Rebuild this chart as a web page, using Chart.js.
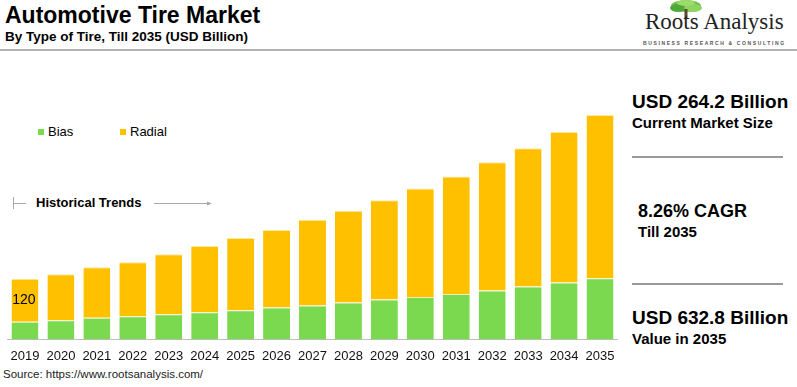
<!DOCTYPE html>
<html>
<head>
<meta charset="utf-8">
<script src="https://cdn.jsdelivr.net/npm/chart.js@4/dist/chart.umd.min.js"></script>
<style>
  body { margin: 0; width: 797px; height: 387px; background: #fff; position: relative; overflow: hidden;
         font-family: "Liberation Sans", Arial, sans-serif; color: #000; }
  .abs { position: absolute; white-space: nowrap; }
  .title { left: 5px; top: 2px; font-size: 23px; font-weight: bold; }
  .subtitle { left: 5px; top: 29px; font-size: 13.5px; font-weight: bold; }
  .topline { left: 0; top: 49px; width: 797px; height: 2px; background: #b3b3b3; }
  .brand { left: 645px; top: 9px; font-family: "Liberation Serif", "Times New Roman", serif; font-size: 23px; color: #222; }
  .tag { left: 643px; top: 40px; font-size: 5px; letter-spacing: 1.62px; color: #555; font-weight: bold; }
  .leg { top: 124px; font-size: 13px; }
  .leg i { display: inline-block; width: 6px; height: 6px; margin-right: 4px; vertical-align: 1px; }
  .hist { left: 36px; top: 195px; font-size: 13px; font-weight: bold; }
  .source { left: 3px; top: 368px; font-size: 11.5px; color: #222; }
  .kpi { left: 632px; font-size: 19px; font-weight: bold; }
  .kpisub { left: 632px; font-size: 15px; font-weight: bold; }
  .sep { left: 632px; width: 151px; height: 2px; background: #999; }
  #wrap { position: absolute; left: 7px; top: 100px; width: 611px; height: 265px; }
</style>
</head>
<body>
<div class="abs title">Automotive Tire Market</div>
<div class="abs subtitle">By Type of Tire, Till 2035 (USD Billion)</div>
<div class="abs topline"></div>

<svg class="abs" style="left:668px;top:0" width="36" height="22" viewBox="0 0 36 22">
  <ellipse cx="18" cy="6" rx="15" ry="6" fill="#6cc24a"/>
  <ellipse cx="10" cy="8" rx="8" ry="4" fill="#4fa83a"/>
  <ellipse cx="25" cy="8" rx="9" ry="4" fill="#8fd45e"/>
  <ellipse cx="18" cy="3" rx="9" ry="3" fill="#9bdc6a"/>
  <rect x="16.5" y="9" width="3" height="10" fill="#5a4a30"/>
</svg>
<div class="abs brand">Roots Analysis</div>
<div class="abs tag">BUSINESS RESEARCH &amp; CONSULTING</div>

<div class="abs leg" style="left:38px"><i style="background:#7bd94f"></i>Bias</div>
<div class="abs leg" style="left:120px"><i style="background:#ffc000"></i>Radial</div>

<svg class="abs" style="left:10px;top:195px" width="210" height="16">
  <line x1="3.5" y1="2" x2="3.5" y2="14" stroke="#aaa" stroke-width="1"/>
  <line x1="3.5" y1="8.5" x2="16" y2="8.5" stroke="#aaa" stroke-width="1"/>
  <line x1="144" y1="8.5" x2="200" y2="8.5" stroke="#aaa" stroke-width="1"/>
  <path d="M197 6.5 L202 8.5 L197 10.5 Z" fill="#aaa"/>
</svg>
<div class="abs hist">Historical Trends</div>

<div class="abs kpi" style="top:91px">USD 264.2 Billion</div>
<div class="abs kpisub" style="top:114px">Current Market Size</div>
<div class="abs sep" style="top:156px"></div>
<div class="abs kpi" style="left:638px;top:201px;font-size:18px">8.26% CAGR</div>
<div class="abs kpisub" style="left:638px;top:223px">Till 2035</div>
<div class="abs sep" style="top:283px"></div>
<div class="abs kpi" style="top:307px">USD 632.8 Billion</div>
<div class="abs kpisub" style="top:330px">Value in 2035</div>

<div class="abs source">Source: https://www.rootsanalysis.com/</div>

<div id="wrap"><canvas id="chart"></canvas></div>

<script>
const years = ["2019","2020","2021","2022","2023","2024","2025","2026","2027","2028","2029","2030","2031","2032","2033","2034","2035"];
const bias = [35, 38, 43, 46, 50, 54, 58, 63, 67, 73, 79, 84, 90, 97, 105, 113, 121];
const radial = [85, 91, 100, 107, 119, 131, 143, 154, 170, 182, 197, 215, 233, 254, 274, 298, 324];
const firstTotalLabel = "120";

// writes the 2019 value inside the radial segment
const barLabel = {
  id: "barLabel",
  afterDatasetsDraw(chart) {
    const bar = chart.getDatasetMeta(1).data[0];
    const ctx = chart.ctx;
    ctx.save();
    ctx.font = "14px 'Liberation Sans', Arial, sans-serif";
    ctx.fillStyle = "#000";
    ctx.textAlign = "center";
    ctx.textBaseline = "middle";
    ctx.fillText(firstTotalLabel, bar.x - 1, (bar.y + bar.base) / 2);
    ctx.restore();
  }
};

new Chart(document.getElementById("chart"), {
  type: "bar",
  data: {
    labels: years,
    datasets: [
      { label: "Bias", data: bias, backgroundColor: "#7bd94f",
        borderColor: "#e9f2b8", borderWidth: { top: 1 }, borderSkipped: "start" },
      { label: "Radial", data: radial, backgroundColor: "#ffc000",
        borderColor: "#fde9a6", borderWidth: { top: 1 }, borderSkipped: "start" }
    ]
  },
  options: {
    responsive: true,
    maintainAspectRatio: false,
    animation: false,
    layout: { padding: 0 },
    datasets: { bar: { barPercentage: 0.75, categoryPercentage: 1 } },
    plugins: { legend: { display: false }, tooltip: { enabled: false } },
    scales: {
      x: {
        stacked: true,
        grid: { display: false },
        border: { display: true, color: "#bfbfbf", width: 1 },
        ticks: { color: "#111", padding: 1, maxRotation: 0, autoSkip: false,
                 font: { family: "'Liberation Sans', Arial, sans-serif", size: 13 } }
      },
      y: { stacked: true, display: false, min: 0, max: 474.6 }
    }
  },
  plugins: [barLabel]
});
</script>
</body>
</html>
